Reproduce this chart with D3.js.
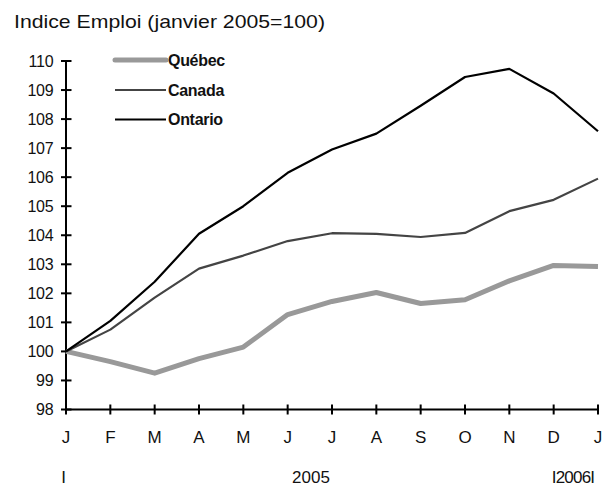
<!DOCTYPE html>
<html><head><meta charset="utf-8">
<script src="https://cdn.jsdelivr.net/npm/d3@7"></script>
<style>body{margin:0;background:#fff}svg{display:block;font-family:"Liberation Sans",Arial,sans-serif}</style>
</head><body><svg id="c" width="612" height="487"></svg>
<script>
const months = ["J","F","M","A","M","J","J","A","S","O","N","D","J"];
const quebec = [100,99.65,99.25,99.75,100.15,101.27,101.72,102.03,101.65,101.78,102.43,102.96,102.92];
const canada = [100,100.75,101.85,102.85,103.3,103.8,104.07,104.05,103.94,104.08,104.83,105.22,105.95];
const ontario = [100,101.05,102.4,104.05,105.0,106.15,106.95,107.5,108.46,109.45,109.73,108.88,107.58];
const yTicks = [98,99,100,101,102,103,104,105,106,107,108,109,110];
const seriesNames = ["Québec","Canada","Ontario"];

const svg = d3.select("#c");
const x = d3.scaleLinear().domain([0,12]).range([66,598]);
const y = d3.scaleLinear().domain([98,110]).range([409.5,61]);

svg.append("text").attr("x",14).attr("y",28).attr("font-size",19).attr("fill","#111")
  .attr("textLength",311).attr("lengthAdjust","spacingAndGlyphs").text("Indice Emploi (janvier 2005=100)");

// y axis
svg.append("line").attr("x1",66).attr("x2",66).attr("y1",y(110)).attr("y2",y(98)).attr("stroke","#000").attr("stroke-width",2);
svg.selectAll(".yt").data(yTicks).enter().append("line")
  .attr("x1",61).attr("x2",71.5).attr("y1",d=>y(d)).attr("y2",d=>y(d)).attr("stroke","#000").attr("stroke-width",2);
svg.selectAll(".yl").data(yTicks).enter().append("text")
  .attr("x",53.5).attr("y",d=>y(d)+5.7).attr("text-anchor","end").attr("font-size",16).attr("letter-spacing",-0.2).attr("fill","#111").text(d=>d);

// x axis
svg.append("line").attr("x1",x(0)).attr("x2",x(12)).attr("y1",y(98)).attr("y2",y(98)).attr("stroke","#000").attr("stroke-width",2);
svg.selectAll(".xt").data(months).enter().append("line")
  .attr("x1",(d,i)=>x(i)).attr("x2",(d,i)=>x(i)).attr("y1",y(98)-5).attr("y2",y(98)+5).attr("stroke","#000").attr("stroke-width",2);
svg.selectAll(".xl").data(months).enter().append("text")
  .attr("x",(d,i)=>x(i)).attr("y",443).attr("text-anchor","middle").attr("font-size",17).attr("fill","#111").text(d=>d);
svg.append("text").attr("x",63.5).attr("y",483).attr("text-anchor","middle").attr("font-size",17).attr("fill","#111").text("I");
svg.append("text").attr("x",311).attr("y",483).attr("text-anchor","middle").attr("font-size",17).attr("fill","#111").text("2005");
svg.append("text").attr("x",573).attr("y",483).attr("text-anchor","middle").attr("font-size",17).attr("letter-spacing",-0.8).attr("fill","#111").text("I2006I");

const line = d3.line().x((d,i)=>x(i)).y(d=>y(d));
const styles = [{c:"#999",w:5},{c:"#444",w:2.2},{c:"#000",w:2.2}];
[quebec,canada,ontario].forEach((s,k)=>{
  svg.append("path").datum(s).attr("d",line).attr("fill","none").attr("stroke",styles[k].c).attr("stroke-width",styles[k].w).attr("stroke-linejoin","round");
});

// legend
const legY = [60,90,119.5];
seriesNames.forEach((n,k)=>{
  const ly = legY[k];
  svg.append("line").attr("x1",115).attr("x2",166).attr("y1",ly).attr("y2",ly).attr("stroke",styles[k].c).attr("stroke-width",styles[k].w).attr("stroke-linecap",k===0?"round":"butt");
  svg.append("text").attr("x",168).attr("y",ly+5.5).attr("font-size",16).attr("font-weight","bold").attr("letter-spacing",-0.3).attr("fill","#111").text(n);
});
</script></body></html>
